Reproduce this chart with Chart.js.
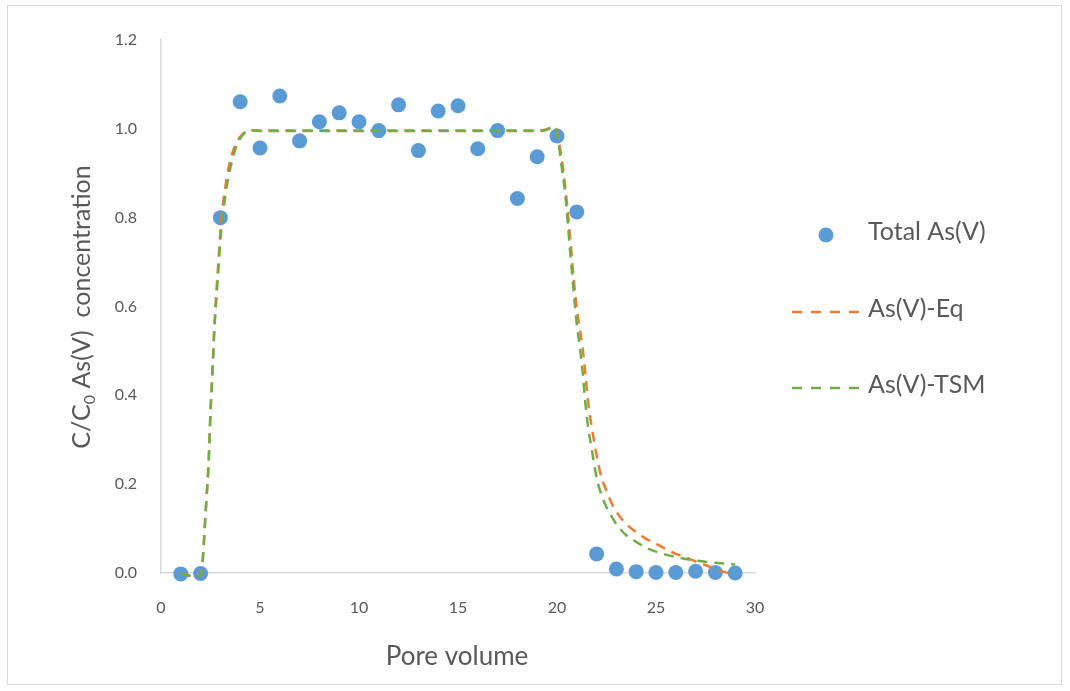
<!DOCTYPE html>
<html>
<head>
<meta charset="utf-8">
<script src="https://cdn.jsdelivr.net/npm/chart.js@4/dist/chart.umd.min.js"></script>
<style>
  html, body { margin: 0; padding: 0; background: #ffffff; }
  #wrap { position: relative; width: 1070px; height: 691px; }
  #frame { position: absolute; left: 7px; top: 5px; width: 1055px; height: 680px; border: 1px solid #d9d9d9; box-sizing: border-box; pointer-events: none; }
  canvas { position: absolute; left: 0; top: 0; }
</style>
</head>
<body>
<div id="wrap">
  <canvas id="c" width="1070" height="691"></canvas>
  <div id="frame"></div>
</div>
<script>
// Measured breakthrough data: relative concentration vs pore volume
const poreVolume = [1, 2, 3, 4, 5, 6, 7, 8, 9, 10, 11, 12, 13, 14, 15, 16, 17, 18, 19, 20, 21, 22, 23, 24, 25, 26, 27, 28, 29];
const totalAsV   = [-0.002, -0.001, 0.80, 1.061, 0.957, 1.074, 0.973, 1.016, 1.036, 1.016, 0.996, 1.054, 0.951, 1.040, 1.052,
                    0.955, 0.996, 0.843, 0.937, 0.984, 0.813, 0.043, 0.009, 0.003, 0.001, 0.001, 0.004, 0.001, 0.000];

// Equilibrium model curve
const eqX = [1, 1.5, 2, 2.1, 2.2, 2.3, 2.4, 2.5, 2.6, 2.7, 2.8, 2.9, 3.0, 3.1, 3.25, 3.4, 3.6, 3.8, 4.0, 4.25, 4.5, 5,
             19, 19.5, 19.8, 20.0, 20.1, 20.25, 20.4, 20.55, 20.7, 20.85, 21.0, 21.15, 21.3, 21.45, 21.6, 21.75,
             22.0, 22.25, 22.5, 22.75, 23.0, 23.5, 24, 24.5, 25, 25.5, 26, 26.5, 27, 27.5, 28, 28.5, 29];
const eqY = [0, -0.006, -0.006, 0.025, 0.095, 0.17, 0.245, 0.365, 0.46, 0.56, 0.635, 0.70, 0.77, 0.82, 0.87, 0.91, 0.945, 0.968, 0.982, 0.993, 0.997, 0.996,
             0.996, 0.999, 1.005, 0.995, 0.97, 0.93, 0.875, 0.81, 0.735, 0.66, 0.595, 0.55, 0.505, 0.44, 0.375, 0.33,
             0.265, 0.215, 0.185, 0.158, 0.138, 0.11, 0.092, 0.077, 0.066, 0.054, 0.043, 0.035, 0.026, 0.018, 0.009, 0.002, -0.003];

// Two-site model curve
const tsmX = [1, 1.5, 2, 2.1, 2.2, 2.3, 2.4, 2.5, 2.6, 2.7, 2.8, 2.9, 3.0, 3.1, 3.25, 3.4, 3.6, 3.8, 4.0, 4.25, 4.5, 5,
              19, 19.5, 19.8, 20.0, 20.1, 20.25, 20.4, 20.55, 20.7, 20.85, 21.0, 21.15, 21.3, 21.45, 21.6, 21.75,
              22.0, 22.25, 22.5, 22.75, 23.0, 23.5, 24, 24.5, 25, 26, 27, 28, 29];
const tsmY = [0, -0.006, -0.006, 0.025, 0.095, 0.17, 0.24, 0.36, 0.45, 0.55, 0.62, 0.685, 0.75, 0.795, 0.85, 0.89, 0.93, 0.96, 0.978, 0.992, 0.997, 0.995,
              0.995, 0.998, 1.005, 0.99, 0.962, 0.91, 0.86, 0.785, 0.705, 0.63, 0.56, 0.51, 0.45, 0.375, 0.32, 0.28,
              0.215, 0.175, 0.148, 0.128, 0.11, 0.085, 0.07, 0.057, 0.048, 0.036, 0.028, 0.023, 0.019];

const xTicks = [0, 5, 10, 15, 20, 25, 30];
const yTicks = [0, 0.2, 0.4, 0.6, 0.8, 1.0, 1.2];

const seriesNames = ['Total As(V)', 'As(V)-Eq', 'As(V)-TSM'];
const BLUE = '#5B9BD5', ORANGE = '#ED7D31', GREEN = '#70AD47', TEXT = '#595959', AXIS = '#d9d9d9';
const FONT = 'Lato, "Noto Sans", sans-serif';

const pts = (xs, ys) => xs.map((x, i) => ({ x: x, y: ys[i] }));

// Axis titles and right-hand legend drawn onto the canvas
const decorations = {
  id: 'decorations',
  afterDraw(chart) {
    const ctx = chart.ctx;
    ctx.save();
    ctx.fillStyle = TEXT;
    ctx.textBaseline = 'middle';

    // x-axis title
    ctx.font = '26px ' + FONT;
    ctx.textAlign = 'center';
    ctx.fillText('Pore volume', 457, 657);

    // y-axis title with subscript
    ctx.translate(82, 307);
    ctx.rotate(-Math.PI / 2);
    const big = '25px ' + FONT, small = '16px ' + FONT;
    const p1 = 'C/C', p2 = '0', p3 = ' As(V)  concentration';
    ctx.font = big; const w1 = ctx.measureText(p1).width, w3 = ctx.measureText(p3).width;
    ctx.font = small; const w2 = ctx.measureText(p2).width;
    let x0 = -(w1 + w2 + w3) / 2;
    ctx.textAlign = 'left';
    ctx.font = big; ctx.fillText(p1, x0, 0);
    ctx.font = small; ctx.fillText(p2, x0 + w1, 8);
    ctx.font = big; ctx.fillText(p3, x0 + w1 + w2, 0);
    ctx.restore();

    // legend
    const ds = chart.data.datasets;
    ctx.save();
    ctx.font = '25px ' + FONT;
    ctx.fillStyle = TEXT;
    ctx.textBaseline = 'middle';
    ctx.textAlign = 'left';
    const rows = [232, 309, 385];
    // marker row
    ctx.beginPath();
    ctx.arc(826, 235, 7.5, 0, Math.PI * 2);
    ctx.fillStyle = ds[0].backgroundColor;
    ctx.fill();
    ctx.fillStyle = TEXT;
    ctx.fillText(ds[0].label, 868, rows[0]);
    // dashed line rows: four dashes per sample
    for (let i = 1; i < 3; i++) {
      ctx.beginPath();
      ctx.setLineDash([10, 9]);
      ctx.lineWidth = ds[i].borderWidth;
      ctx.strokeStyle = ds[i].borderColor;
      ctx.moveTo(792, rows[i] + 3);
      ctx.lineTo(859, rows[i] + 3);
      ctx.stroke();
      ctx.setLineDash([]);
      ctx.fillText(ds[i].label, 868, rows[i]);
    }
    ctx.restore();
  }
};

new Chart(document.getElementById('c'), {
  type: 'scatter',
  data: {
    datasets: [
      { label: seriesNames[0], data: pts(poreVolume, totalAsV), backgroundColor: BLUE, borderColor: BLUE,
        pointRadius: 7.5, pointHoverRadius: 7.5, borderWidth: 0, order: 3, clip: false },
      { label: seriesNames[1], data: pts(eqX, eqY), showLine: true, borderColor: ORANGE, backgroundColor: ORANGE,
        borderWidth: 2.5, borderDash: [10, 7], pointRadius: 0, cubicInterpolationMode: 'monotone', order: 2, clip: false },
      { label: seriesNames[2], data: pts(tsmX, tsmY), showLine: true, borderColor: GREEN, backgroundColor: GREEN,
        borderWidth: 2.5, borderDash: [10, 7], pointRadius: 0, cubicInterpolationMode: 'monotone', order: 1, clip: false }
    ]
  },
  options: {
    responsive: false,
    animation: false,
    devicePixelRatio: 1,
    layout: { padding: { top: 40, right: 315, bottom: 0, left: 0 } },
    plugins: { legend: { display: false }, tooltip: { enabled: false } },
    scales: {
      x: {
        type: 'linear', min: 0, max: 30,
        afterBuildTicks: s => { s.ticks = xTicks.map(v => ({ value: v })); },
        afterFit: s => { s.height = 118; },
        grid: { display: false, drawTicks: false },
        border: { display: true, color: AXIS, width: 1.5 },
        ticks: { color: TEXT, font: { family: FONT, size: 16 }, padding: 25, callback: v => String(v) }
      },
      y: {
        type: 'linear', min: 0, max: 1.2,
        afterBuildTicks: s => { s.ticks = yTicks.map(v => ({ value: v })); },
        afterFit: s => { s.width = 161; },
        grid: { display: false, drawTicks: false },
        border: { display: true, color: AXIS, width: 1.5 },
        ticks: { color: TEXT, font: { family: FONT, size: 16 }, padding: 24, callback: v => Number(v).toFixed(1) }
      }
    }
  },
  plugins: [decorations]
});
</script>
</body>
</html>
